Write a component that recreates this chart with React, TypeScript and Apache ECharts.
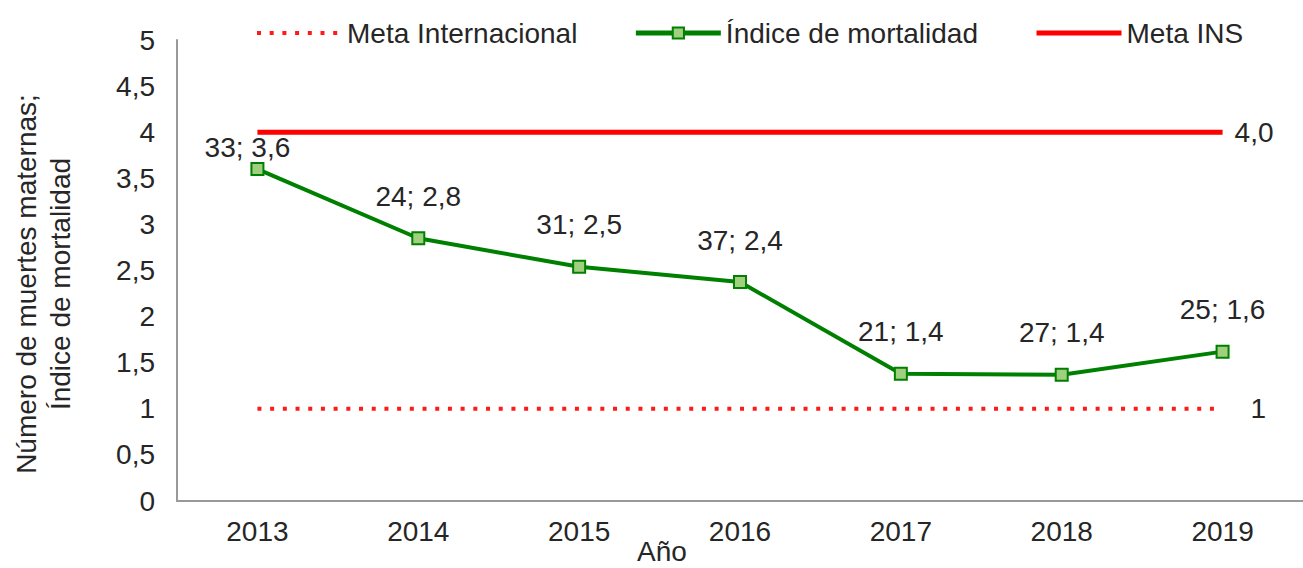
import React, { useEffect, useRef } from "react";
import * as echarts from "echarts";

const years = ["2013", "2014", "2015", "2016", "2017", "2018", "2019"];
const indice = [3.6, 2.85, 2.54, 2.375, 1.38, 1.37, 1.62];
const pointLabels = ["33; 3,6", "24; 2,8", "31; 2,5", "37; 2,4", "21; 1,4", "27; 1,4", "25; 1,6"];
const metaINS = [4, 4, 4, 4, 4, 4, 4];
const metaInternacional = [1, 1, 1, 1, 1, 1, 1];
const metaINSLabel = "4,0";
const metaIntLabel = "1";

const FONT = '"Liberation Sans", Arial, sans-serif';
const TXT = "#262626";

export default function App() {
  const ref = useRef<HTMLDivElement>(null);
  useEffect(() => {
    if (!ref.current) return;
    const chart = echarts.init(ref.current, undefined, { renderer: "svg" });
    chart.setOption({
      animation: false,
      textStyle: { fontFamily: FONT },
      legend: {
        left: 250,
        top: 14,
        itemWidth: 85,
        itemHeight: 14,
        itemGap: 56,
        textStyle: { fontSize: 28, color: TXT, fontFamily: FONT },
        data: [
          {
            name: "Meta Internacional",
            itemStyle: { opacity: 0 },
            lineStyle: { width: 4, type: [4, 8.7], color: "#ff1a1a" },
          },
          {
            name: "Índice de mortalidad",
            lineStyle: { width: 5, color: "#008000" },
          },
          {
            name: "Meta INS",
            itemStyle: { opacity: 0 },
            lineStyle: { width: 5, color: "#ff0000" },
          },
        ],
      },
      grid: { left: 177, top: 40, width: 1134, height: 461 },
      xAxis: {
        type: "category",
        data: years,
        axisLine: { lineStyle: { color: "#999", width: 2 } },
        axisTick: { show: false },
        axisLabel: { fontSize: 28, color: TXT, margin: 16, fontFamily: FONT },
      },
      yAxis: {
        type: "value",
        min: 0,
        max: 5,
        interval: 0.5,
        axisLine: { show: true, lineStyle: { color: "#999", width: 2 } },
        axisTick: { show: false },
        splitLine: { show: false },
        axisLabel: {
          fontSize: 28,
          color: TXT,
          margin: 22,
          fontFamily: FONT,
          formatter: (v: number) => String(v).replace(".", ","),
        },
      },
      graphic: [
        {
          type: "text",
          x: 43,
          y: 284,
          rotation: Math.PI / 2,
          style: {
            text: "Número de muertes maternas;\nÍndice de mortalidad",
            font: `28px ${FONT}`,
            fill: TXT,
            textAlign: "center",
            textVerticalAlign: "middle",
            lineHeight: 34,
          },
        },
        {
          type: "text",
          x: 662,
          y: 551,
          style: {
            text: "Año",
            font: `28px ${FONT}`,
            fill: TXT,
            textAlign: "center",
            textVerticalAlign: "middle",
          },
        },
      ],
      series: [
        {
          name: "Meta Internacional",
          type: "line",
          data: metaInternacional,
          symbol: "none",
          color: "#ff1a1a",
          lineStyle: { color: "#ff1a1a", width: 4, type: [4, 8.7] },
          endLabel: {
            show: true,
            formatter: metaIntLabel,
            fontSize: 28,
            color: TXT,
            distance: 28,
            fontFamily: FONT,
          },
          z: 2,
        },
        {
          name: "Índice de mortalidad",
          type: "line",
          data: indice.map((v, i) =>
            i === 0
              ? { value: v, label: { offset: [-10, 20] } }
              : { value: v }
          ),
          symbol: "rect",
          symbolSize: 12,
          color: "#008000",
          lineStyle: { color: "#008000", width: 4 },
          itemStyle: { color: "#9fcf7f", borderColor: "#008000", borderWidth: 2 },
          label: {
            show: true,
            position: "top",
            distance: 21,
            fontSize: 28,
            color: TXT,
            fontFamily: FONT,
            formatter: (p: any) => pointLabels[p.dataIndex],
          },
          z: 4,
        },
        {
          name: "Meta INS",
          type: "line",
          data: metaINS,
          symbol: "none",
          color: "#ff0000",
          lineStyle: { color: "#ff0000", width: 5 },
          endLabel: {
            show: true,
            formatter: metaINSLabel,
            fontSize: 28,
            color: TXT,
            distance: 12,
            fontFamily: FONT,
          },
          z: 3,
        },
      ],
    });
    return () => chart.dispose();
  }, []);
  return (
    <div
      ref={ref}
      style={{ position: "absolute", left: 0, top: 0, width: 1303, height: 568, background: "#fff" }}
    />
  );
}
